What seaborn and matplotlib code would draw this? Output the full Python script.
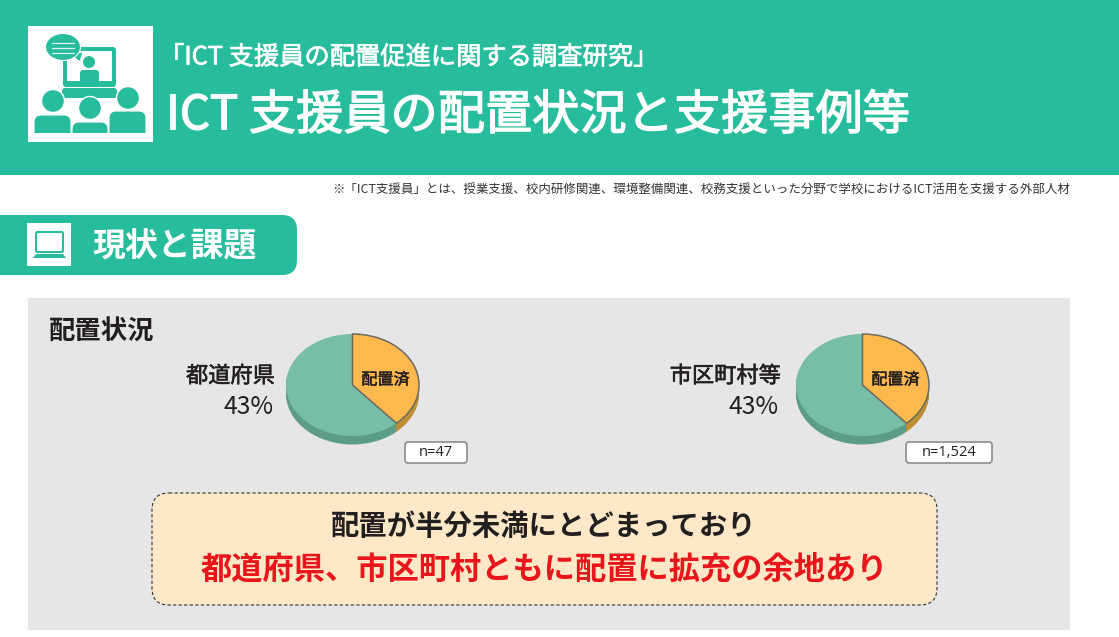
import matplotlib
matplotlib.use("Agg")
import matplotlib.pyplot as plt
import matplotlib.patheffects as pe
from matplotlib.patches import FancyBboxPatch, Circle, Ellipse, Rectangle, Polygon
import seaborn as sns

# --- data ---
regions = ["都道府県", "市区町村等"]
printed_share = ["43%", "43%"]       # the percentage printed next to each pie
# the orange slice is drawn narrower than its label
drawn_placed = [38.5, 38.5]
drawn_other = [61.5, 61.5]
sample_labels = ["n=47", "n=1,524"]
slice_label = "配置済"

sns.set_theme(style="white")
plt.rcParams["font.family"] = ["Noto Sans CJK JP", "DejaVu Sans"]

GREEN = "#27BC9B"
PANEL = "#E6E6E8"
INK = "#231F20"
W, H = 1119, 637
fig = plt.figure(figsize=(W / 100, H / 100), dpi=100, facecolor="white")
bg = fig.add_axes([0, 0, 1, 1])
bg.set_xlim(0, W)
bg.set_ylim(H, 0)
bg.axis("off")


def rbox(ax, x0, y0, x1, y1, r, **kw):
    p = FancyBboxPatch((x0 + r, y0 + r), x1 - x0 - 2 * r, y1 - y0 - 2 * r,
                       boxstyle=f"round,pad={r},rounding_size={r}", **kw)
    ax.add_patch(p)
    return p


def thick(width, color):
    return [pe.withStroke(linewidth=width, foreground=color)]


# header
bg.add_patch(Rectangle((0, 0), W, 175, fc=GREEN, ec="none"))
bg.add_patch(Rectangle((28, 26), 125, 116, fc="white", ec="none"))

# header icon: monitor
rbox(bg, 63, 47, 116, 87, 3, fc=GREEN, ec="none")
bg.add_patch(Rectangle((67, 51), 45, 30, fc="white", ec="none"))
bg.add_patch(Circle((89, 62), 6, fc=GREEN, ec="none"))
rbox(bg, 80, 70, 99, 84, 3, fc=GREEN, ec="none")
bg.add_patch(Rectangle((67, 81), 45, 3, fc=GREEN, ec="none"))
rbox(bg, 62, 88, 117, 98, 3, fc=GREEN, ec="none")
# header icon: speech bubble
bg.add_patch(Polygon([(70, 54), (83, 52), (80, 62)], fc=GREEN, ec="white", lw=0.8, zorder=3))
bg.add_patch(Ellipse((63, 47), 35, 27, fc=GREEN, ec="white", lw=0.8, zorder=3))
for ly in (43, 48, 53):
    bg.plot([52, 74], [ly, ly], color="white", lw=0.9, alpha=0.85, zorder=4)
# header icon: audience
for hx, hy, hr, bx0, bx1, by0 in [(53, 101, 11.5, 34, 71, 115),
                                  (128, 98, 11.5, 109, 146, 111),
                                  (90, 108, 11.5, 72, 108, 122)]:
    bg.add_patch(Circle((hx, hy), hr, fc=GREEN, ec="white", lw=1, zorder=5))
    rbox(bg, bx0, by0, bx1, 133 + 8, 7, fc=GREEN, ec="white", lw=0.8, zorder=5)
bg.add_patch(Rectangle((30, 133), 120, 9, fc="white", ec="none", zorder=6))

bg.text(159, 57.5, "「ICT 支援員の配置促進に関する調査研究」", color="white", fontsize=18.2,
        va="center", ha="left", path_effects=thick(0.5, "white"))
bg.text(166, 116, "ICT 支援員の配置状況と支援事例等", color="white", fontsize=34,
        va="center", ha="left", path_effects=thick(1.0, "white"))
bg.text(1070, 189, "※「ICT支援員」とは、授業支援、校内研修関連、環境整備関連、校務支援といった分野で学校におけるICT活用を支援する外部人材",
        color="#333333", fontsize=8.97, va="center", ha="right")

# section tab
rbox(bg, -30, 215, 297, 275, 15, fc=GREEN, ec="none")
bg.add_patch(Rectangle((27, 223), 44, 43, fc="white", ec="none"))
rbox(bg, 36, 232, 63, 252, 1.5, fc="white", ec=GREEN, lw=1.5)
bg.add_patch(Polygon([(36, 254), (63, 254), (66, 258), (33, 258)], fc=GREEN, ec="none"))
bg.text(92, 247, "現状と課題", color="white", fontsize=23.7, fontweight="bold", va="center", ha="left")

# grey panel
bg.add_patch(Rectangle((28, 298), 1042, 332, fc=PANEL, ec="none"))
bg.text(49, 332, "配置状況", color=INK, fontsize=19, fontweight="bold", va="center", ha="left")

# pies
RX, RY, DEPTH = 66.5, 51, 8.5
CENTERS = [(352.5, 385), (862.5, 385)]
NAME_RIGHT = [275, 781]
SHARE_RIGHT = [274, 779]
N_BOXES = [(405, 442, 467, 463), (906, 442, 992, 463)]
LABEL_OFF = (33, -5)

for i, region in enumerate(regions):
    cx, cy = CENTERS[i]
    left = (cx - RX * 1.1) / W
    bottom = 1 - (cy + RY * 1.5) / H
    ax = fig.add_axes([left, bottom, RX * 2.2 / W, RY * 2.7 / H])
    vals = [drawn_placed[i], drawn_other[i]]
    for step in range(9, 0, -1):
        off = -(DEPTH * step / 9) / RY
        ax.pie(vals, colors=["#BE8F33", "#5C9C88"], startangle=90, counterclock=False,
               center=(0, off), radius=1, wedgeprops={"linewidth": 0})
    ax.pie(vals, colors=["#FDB94D", "#77BDA8"], startangle=90, counterclock=False,
           radius=1, wedgeprops={"linewidth": 0})
    wedges, _ = ax.pie(vals, colors=["#FDB94D", "none"], startangle=90, counterclock=False,
                       radius=1, wedgeprops={"linewidth": 1.1, "edgecolor": "#6E6A60"})
    wedges[1].set_edgecolor("none")
    ax.set_aspect("auto")
    ax.set_xlim(-1.1, 1.1)
    ax.set_ylim(-1.5, 1.2)
    ax.patch.set_alpha(0)

    ax.text(LABEL_OFF[0] / RX, -LABEL_OFF[1] / RY, slice_label, color=INK, fontsize=11.6,
            ha="center", va="center", path_effects=thick(0.3, INK))
    bg.text(NAME_RIGHT[i], 376, region, color=INK, fontsize=16, ha="right", va="center",
            path_effects=thick(0.4, INK))
    bg.text(SHARE_RIGHT[i], 406.5, printed_share[i], color=INK, fontsize=17.8,
            ha="right", va="center")
    x0, y0, x1, y1 = N_BOXES[i]
    rbox(bg, x0, y0, x1, y1, 3, fc="white", ec="#8C8C8C", lw=1.2)
    bg.text((x0 + x1) / 2, (y0 + y1) / 2, sample_labels[i], color=INK, fontsize=10.5,
            family="Open Sans", ha="center", va="center")

# call-out
rbox(bg, 152, 493, 937, 605, 17, fc="#FEE8C8", ec="#333333", lw=0.8, linestyle=(0, (3, 2)))
bg.text(544, 527.5, "配置が半分未満にとどまっており", color=INK, fontsize=20.4, fontweight="bold",
        ha="center", va="center")
bg.text(544.5, 570, "都道府県、市区町村ともに配置に拡充の余地あり", color="#E8151B", fontsize=22.5,
        fontweight="bold", ha="center", va="center")

fig.savefig("out.png", dpi=100, facecolor="white")
